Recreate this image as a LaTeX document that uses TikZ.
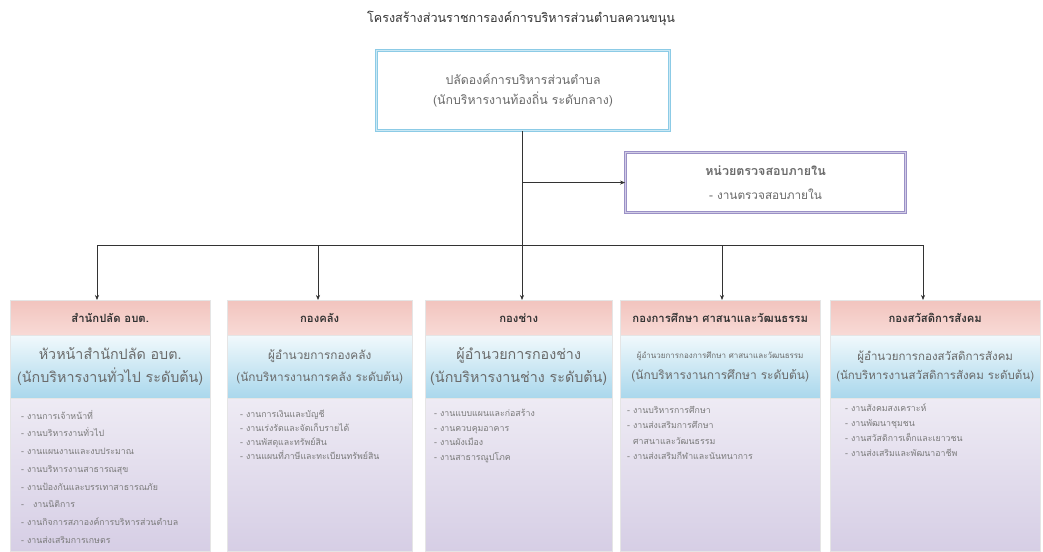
\documentclass[tikz,border=0pt]{standalone}
\usepackage{fontspec}
\usetikzlibrary{arrows.meta}
\newfontfamily\thai[Script=Thai]{Loma}
\definecolor{topblue}{HTML}{8CCBE6}
\definecolor{auditpurple}{HTML}{9A90C6}
\definecolor{pinkA}{HTML}{F2C4BE}
\definecolor{pinkB}{HTML}{F8DAD6}
\definecolor{blueA}{HTML}{F1F9FC}
\definecolor{blueB}{HTML}{A9D7EC}
\definecolor{purpA}{HTML}{EEEBF4}
\definecolor{purpB}{HTML}{D6CEE5}
\definecolor{darktxt}{HTML}{333333}
\definecolor{graytxt}{HTML}{6A6A6A}
\definecolor{ltxt}{HTML}{7A7A7A}
\begin{document}
\begin{tikzpicture}[x=1pt,y=-1pt,font=\thai,
  conn/.style={draw=black!80, line width=0.6pt},
  arr/.style={conn, -{Stealth[length=5pt,width=4pt]}},
  topbox/.style={draw=topblue, line width=1.1pt, double=topblue!45, double distance=1.4pt,
     anchor=north west, minimum width=293pt, minimum height=80pt, inner sep=0pt,
     align=center, font=\thai\fontsize{12.3}{20}\selectfont, text=graytxt},
  auditbox/.style={draw=auditpurple, line width=1.1pt, double=auditpurple!45, double distance=1.4pt,
     anchor=north west, minimum width=280pt, minimum height=60pt, inner sep=0pt,
     align=center, text=graytxt},
  hdr/.style={draw=black!10, line width=0.4pt, top color=pinkA, bottom color=pinkB,
     minimum height=35pt, anchor=north west, inner sep=0pt,
     font=\thai\bfseries\fontsize{11.3}{13}\selectfont, text=darktxt},
  role/.style={draw=black!10, line width=0.4pt, top color=blueA, bottom color=blueB,
     minimum height=63pt, anchor=north west, inner sep=0pt, align=center,
     font=\thai\fontsize{14.3}{23}\selectfont, text=graytxt},
  listbg/.style={draw=black!10, line width=0.4pt, top color=purpA, bottom color=purpB,
     minimum height=153pt, anchor=north west, inner sep=0pt},
  listtxt/.style={anchor=north west, align=left, inner sep=0pt,
     font=\thai\fontsize{8.8}{14.5}\selectfont, text=ltxt}
]
\useasboundingbox (0,0) rectangle (1043,551);
\fill[white] (0,0) rectangle (1043,551);

% title
\node[font=\thai\fontsize{12.6}{14}\selectfont, text=darktxt] (title) at (521,18) {โครงสร้างส่วนราชการองค์การบริหารส่วนตำบลควนขนุน};

% top box
\node[topbox] (top) at (376,50) {ปลัดองค์การบริหารส่วนตำบล\\(นักบริหารงานท้องถิ่น ระดับกลาง)};

% audit box
\node[auditbox, font=\thai\fontsize{12}{22}\selectfont] (audit) at (625,152) {{\bfseries\fontsize{12.5}{22}\selectfont หน่วยตรวจสอบภายใน}\\[2pt]{\fontsize{11.8}{22}\selectfont - งานตรวจสอบภายใน}};

% bottom boxes: headers
\node[hdr, minimum width=200pt] (h1) at (10,300) {สำนักปลัด อบต.};
\node[hdr, minimum width=185pt] (h2) at (227,300) {กองคลัง};
\node[hdr, minimum width=187pt] (h3) at (425,300) {กองช่าง};
\node[hdr, minimum width=200pt] (h4) at (620,300) {กองการศึกษา ศาสนาและวัฒนธรรม};
\node[hdr, minimum width=210pt] (h5) at (830,300) {กองสวัสดิการสังคม};

% role bands
\node[role, minimum width=200pt] (r1) at (10,335) {หัวหน้าสำนักปลัด อบต.\\(นักบริหารงานทั่วไป ระดับต้น)};
\node[role, minimum width=185pt, font=\thai\fontsize{11.8}{22}\selectfont] (r2) at (227,335) {ผู้อำนวยการกองคลัง\\(นักบริหารงานการคลัง ระดับต้น)};
\node[role, minimum width=187pt] (r3) at (425,335) {ผู้อำนวยการกองช่าง\\(นักบริหารงานช่าง ระดับต้น)};
\node[role, minimum width=200pt] (r4) at (620,335) {{\fontsize{8}{10}\selectfont ผู้อำนวยการกองการศึกษา ศาสนาและวัฒนธรรม}\\[-2pt]{\fontsize{12}{20}\selectfont(นักบริหารงานการศึกษา ระดับต้น)}};
\node[role, minimum width=210pt, font=\thai\fontsize{11.5}{19}\selectfont] (r5) at (830,335) {ผู้อำนวยการกองสวัสดิการสังคม\\(นักบริหารงานสวัสดิการสังคม ระดับต้น)};

% list backgrounds
\node[listbg, minimum width=200pt] (p1) at (10,398) {};
\node[listbg, minimum width=185pt] (p2) at (227,398) {};
\node[listbg, minimum width=187pt] (p3) at (425,398) {};
\node[listbg, minimum width=200pt] (p4) at (620,398) {};
\node[listbg, minimum width=210pt] (p5) at (830,398) {};

% list texts
\node[listtxt, font=\thai\fontsize{8.8}{17.7}\selectfont] (l1) at (21,410) {- งานการเจ้าหน้าที่\\- งานบริหารงานทั่วไป\\- งานแผนงานและงบประมาณ\\- งานบริหารงานสาธารณสุข\\- งานป้องกันและบรรเทาสาธารณภัย\\-\ \ \ งานนิติการ\\- งานกิจการสภาองค์การบริหารส่วนตำบล\\- งานส่งเสริมการเกษตร};
\node[listtxt, font=\thai\fontsize{8.8}{14}\selectfont] (l2) at (240,410) {- งานการเงินและบัญชี\\- งานเร่งรัดและจัดเก็บรายได้\\- งานพัสดุและทรัพย์สิน\\- งานแผนที่ภาษีและทะเบียนทรัพย์สิน};
\node[listtxt] (l3) at (434,409) {- งานแบบแผนและก่อสร้าง\\- งานควบคุมอาคาร\\- งานผังเมือง\\- งานสาธารณูปโภค};
\node[listtxt, font=\thai\fontsize{8.8}{15.3}\selectfont] (l4) at (627,406) {- งานบริหารการศึกษา\\- งานส่งเสริมการศึกษา\\\ \ ศาสนาและวัฒนธรรม\\- งานส่งเสริมกีฬาและนันทนาการ};
\node[listtxt, font=\thai\fontsize{8.8}{15}\selectfont] (l5) at (845,404) {- งานสังคมสงเคราะห์\\- งานพัฒนาชุมชน\\- งานสวัสดิการเด็กและเยาวชน\\- งานส่งเสริมและพัฒนาอาชีพ};

% connectors
\coordinate (j0) at (top.south -| 522,0);
\coordinate (jb) at (522,245);
\coordinate (b1) at (97,245);
\coordinate (b2) at (318,245);
\coordinate (b4) at (722,245);
\coordinate (b5) at (923,245);
\draw[conn] (j0) -- (jb);
\draw[arr] (j0 |- audit.west) -- (audit.west);
\draw[conn] (b1) -- (b5);
\draw[arr] (b1) -- (b1 |- h1.north);
\draw[arr] (b2) -- (b2 |- h2.north);
\draw[arr] (jb) -- (jb |- h3.north);
\draw[arr] (b4) -- (b4 |- h4.north);
\draw[arr] (b5) -- (b5 |- h5.north);
\end{tikzpicture}
\end{document}
